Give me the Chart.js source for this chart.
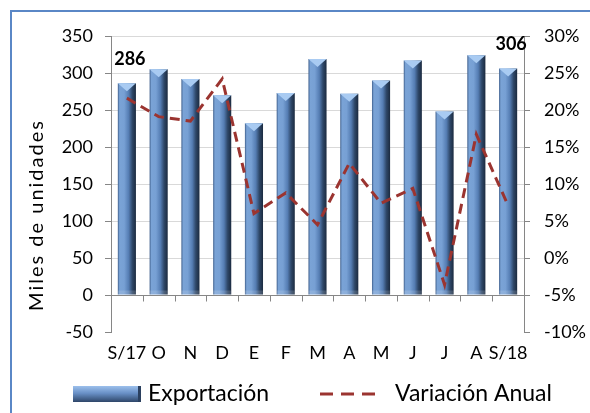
<!DOCTYPE html>
<html>
<head>
<meta charset="utf-8">
<script src="https://cdn.jsdelivr.net/npm/chart.js@4.4.1/dist/chart.umd.min.js"></script>
<style>
  body { margin: 0; background: #fff; overflow: hidden; }
  #wrap { position: relative; width: 590px; height: 413px; }
  #frame { position: absolute; left: 10px; top: 10px; width: 600px; height: 420px; border: 2px solid #5a87c6; box-sizing: border-box; }
  canvas { position: absolute; left: 0; top: 0; }
</style>
</head>
<body>
<div id="wrap">
  <div id="frame"></div>
  <canvas id="chart" width="590" height="413"></canvas>
</div>
<script>
// data
const months = ['S/17', 'O', 'N', 'D', 'E', 'F', 'M', 'A', 'M', 'J', 'J', 'A', 'S/18'];
const exportacion = [286, 305, 292, 270, 232, 273, 319, 272, 290, 317, 248, 324, 306];
const variacion = [21.6, 19.1, 18.5, 24.2, 6.0, 8.8, 4.5, 12.8, 7.4, 9.4, -3.6, 16.7, 7.1];
const leftRange = [-50, 350, 50];   // min, max, step
const rightRange = [-10, 30, 5];
const labeledBars = [0, 12];        // bars with a value label
const yTitle = 'Miles de unidades';

const FONT = 'Lato';
const BAR_PCT = 0.57;
const LINE_COLOR = '#9b3430';
const LINE_DASH = [10, 6];

// horizontal gradient so the bars look like cylinders
function barFill(context) {
  const chart = context.chart;
  const x = chart.scales.x;
  if (!x || context.dataIndex === undefined) return '#5a82b8';
  const cx = x.getPixelForValue(context.dataIndex);
  const w = x.width / months.length * BAR_PCT;
  if (!isFinite(cx) || !isFinite(w) || w <= 0) return '#5a82b8';
  const g = chart.ctx.createLinearGradient(cx - w / 2, 0, cx + w / 2, 0);
  g.addColorStop(0, '#3f5f8c');
  g.addColorStop(0.1, '#7aa3d6');
  g.addColorStop(0.35, '#77a0d4');
  g.addColorStop(0.6, '#557db3');
  g.addColorStop(0.8, '#2e4768');
  g.addColorStop(1, '#1b2a3f');
  return g;
}

// axis line at zero with tick marks between categories
const zeroAxis = {
  id: 'zeroAxis',
  beforeDatasetsDraw(chart) {
    const { ctx, chartArea, scales } = chart;
    const y0 = Math.round(scales.y.getPixelForValue(0)) + 0.5;
    const step = scales.x.width / months.length;
    ctx.save();
    ctx.strokeStyle = '#868686';
    ctx.lineWidth = 1;
    ctx.beginPath();
    ctx.moveTo(chartArea.left, y0);
    ctx.lineTo(chartArea.right, y0);
    for (let i = 0; i <= months.length; i++) {
      const xx = Math.round(chartArea.left + i * step) + 0.5;
      ctx.moveTo(xx, y0);
      ctx.lineTo(xx, y0 + 6);
    }
    ctx.stroke();
    ctx.restore();
  }
};

// light triangle on top of each bar + value labels
const barDeco = {
  id: 'barDeco',
  afterDatasetDraw(chart, args) {
    if (args.index !== 0) return;
    const ctx = chart.ctx;
    ctx.save();
    args.meta.data.forEach((el, i) => {
      const w = el.width;
      ctx.fillStyle = '#a9cbf2';
      ctx.beginPath();
      ctx.moveTo(el.x - w / 2, el.y);
      ctx.lineTo(el.x + w / 2, el.y);
      ctx.lineTo(el.x, el.y + 8);
      ctx.closePath();
      ctx.fill();
      ctx.fillStyle = 'rgba(255,255,255,0.15)';
      ctx.fillRect(el.x - w / 2, el.base - 4, w, 4);
      if (labeledBars.includes(i)) {
        ctx.fillStyle = '#000';
        ctx.font = 'bold 18px ' + FONT;
        ctx.textAlign = 'center';
        ctx.textBaseline = 'middle';
        ctx.fillText(String(exportacion[i]), el.x + 3, el.y - 24);
      }
    });
    ctx.restore();
  }
};

// rotated, letter-spaced axis title and the legend under the plot
const extras = {
  id: 'extras',
  afterDraw(chart) {
    const { ctx, chartArea } = chart;
    ctx.save();
    ctx.translate(37, 215);
    ctx.rotate(-Math.PI / 2);
    ctx.font = '20px ' + FONT;
    if ('letterSpacing' in ctx) ctx.letterSpacing = '2px';
    ctx.fillStyle = '#000';
    ctx.textAlign = 'center';
    ctx.textBaseline = 'middle';
    ctx.fillText(yTitle, 0, 0);
    ctx.restore();

    const ly = chartArea.bottom + 62;
    const labels = chart.data.datasets.map(d => d.label);
    ctx.save();
    // bar swatch
    const g = ctx.createLinearGradient(0, ly - 8, 0, ly + 8);
    g.addColorStop(0, '#9cc0ec');
    g.addColorStop(0.45, '#6990c6');
    g.addColorStop(1, '#2e4669');
    ctx.fillStyle = g;
    ctx.fillRect(73, ly - 8, 68, 16);
    ctx.fillStyle = '#2b405f';
    ctx.fillRect(138, ly - 8, 3, 16);
    ctx.font = '23px ' + FONT;
    ctx.fillStyle = '#000';
    ctx.textBaseline = 'middle';
    ctx.fillText(labels[0], 148, ly);
    // dashed swatch
    ctx.strokeStyle = LINE_COLOR;
    ctx.lineWidth = 3;
    ctx.setLineDash([13, 8]);
    ctx.beginPath();
    ctx.moveTo(320, ly);
    ctx.lineTo(376, ly);
    ctx.stroke();
    ctx.fillText(labels[1], 395, ly);
    ctx.restore();
  }
};

new Chart(document.getElementById('chart'), {
  data: {
    labels: months,
    datasets: [
      {
        type: 'bar',
        label: 'Exportación',
        data: exportacion,
        yAxisID: 'y',
        backgroundColor: barFill,
        borderWidth: 0,
        barPercentage: BAR_PCT,
        categoryPercentage: 1,
        order: 2
      },
      {
        type: 'line',
        label: 'Variación Anual',
        data: variacion,
        yAxisID: 'y1',
        borderColor: LINE_COLOR,
        backgroundColor: LINE_COLOR,
        borderWidth: 3,
        borderDash: LINE_DASH,
        pointRadius: 0,
        tension: 0,
        fill: false,
        order: 1
      }
    ]
  },
  options: {
    responsive: false,
    animation: false,
    layout: { padding: { left: 0, right: 0, top: 36, bottom: 47 } },
    scales: {
      x: {
        grid: { display: false, drawTicks: false },
        border: { display: false },
        ticks: { color: '#000', font: { family: FONT, size: 18 }, padding: 10, autoSkip: false, maxRotation: 0 },
        afterFit: s => { s.height = 34; }
      },
      y: {
        position: 'left',
        min: leftRange[0], max: leftRange[1],
        ticks: { stepSize: leftRange[2], color: '#000', font: { family: FONT, size: 18 }, padding: 12 },
        grid: {
          color: c => (c.tick && c.tick.value === leftRange[0] ? 'rgba(0,0,0,0)' : '#d9d9d9'),
          tickColor: '#868686', tickLength: 6
        },
        border: { color: '#868686' },
        afterFit: s => { s.width = 111; }
      },
      y1: {
        position: 'right',
        min: rightRange[0], max: rightRange[1],
        ticks: { stepSize: rightRange[2], color: '#000', font: { family: FONT, size: 18 }, padding: 14, callback: v => v + '%' },
        grid: { drawOnChartArea: false, tickColor: '#868686', tickLength: 6 },
        border: { color: '#868686' },
        afterFit: s => { s.width = 66; }
      }
    },
    plugins: {
      tooltip: { enabled: false },
      legend: { display: false }
    }
  },
  plugins: [zeroAxis, barDeco, extras]
});
</script>
</body>
</html>
